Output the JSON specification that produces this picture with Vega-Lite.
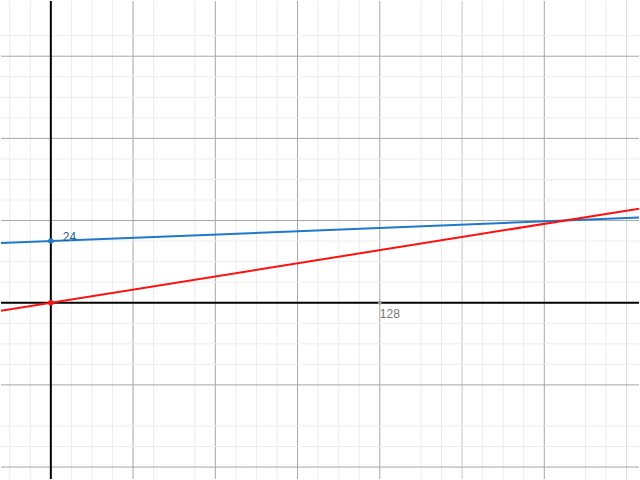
{
  "$schema": "https://vega.github.io/schema/vega-lite/v6.json",
  "width": 640,
  "height": 480,
  "padding": 0,
  "autosize": {"type": "fit", "contains": "padding"},
  "background": "white",
  "config": {"view": {"stroke": null}},
  "datasets": {
    "vgrid": [
      {"v": -16, "kind": "minor"}, {"v": -8, "kind": "minor"}, {"v": 8, "kind": "minor"}, {"v": 16, "kind": "minor"},
      {"v": 24, "kind": "minor"}, {"v": 32, "kind": "major"}, {"v": 40, "kind": "minor"},
      {"v": 56, "kind": "minor"}, {"v": 64, "kind": "major"}, {"v": 72, "kind": "minor"}, {"v": 80, "kind": "minor"},
      {"v": 88, "kind": "minor"}, {"v": 96, "kind": "major"}, {"v": 104, "kind": "minor"}, {"v": 112, "kind": "minor"},
      {"v": 120, "kind": "minor"}, {"v": 128, "kind": "major"}, {"v": 144, "kind": "minor"},
      {"v": 152, "kind": "minor"}, {"v": 160, "kind": "mid"}, {"v": 168, "kind": "minor"}, {"v": 176, "kind": "minor"},
      {"v": 184, "kind": "minor"}, {"v": 192, "kind": "major"}, {"v": 208, "kind": "minor"},
      {"v": 216, "kind": "minor"}, {"v": 224, "kind": "light"}
    ],
    "hgrid": [
      {"v": -64, "kind": "major"}, {"v": -56, "kind": "minor"}, {"v": -48, "kind": "minor"},
      {"v": -32, "kind": "major"}, {"v": -24, "kind": "minor"}, {"v": -16, "kind": "minor"}, {"v": -8, "kind": "minor"},
      {"v": 8, "kind": "minor"}, {"v": 16, "kind": "minor"}, {"v": 24, "kind": "minor"}, {"v": 32, "kind": "major"},
      {"v": 40, "kind": "minor"}, {"v": 48, "kind": "minor"}, {"v": 56, "kind": "minor"}, {"v": 64, "kind": "major"},
      {"v": 72, "kind": "minor"}, {"v": 80, "kind": "minor"}, {"v": 88, "kind": "minor"}, {"v": 96, "kind": "major"},
      {"v": 104, "kind": "minor"}
    ],
    "lines": [
      {"series": "blue", "x": -25, "y": 23.0},
      {"series": "blue", "x": 235, "y": 33.4},
      {"series": "red", "x": -25, "y": -4.0},
      {"series": "red", "x": 235, "y": 37.6}
    ],
    "points": [
      {"series": "blue", "x": 0, "y": 24, "label": "24"},
      {"series": "red", "x": 0, "y": 0, "label": ""}
    ],
    "ticklabel": [{"x": 128, "y": 0, "label": "128"}],
    "axes": [{"v": 0}]
  },
  "layer": [
    {
      "data": {"name": "vgrid"},
      "mark": {"type": "rule", "strokeWidth": 1},
      "encoding": {
        "x": {"field": "v", "type": "quantitative", "axis": null,
              "scale": {"domain": [-19.39, 228.85], "nice": false, "zero": false}},
        "color": {"field": "kind", "type": "nominal", "scale": {"domain": ["major", "mid", "light", "minor"], "range": ["#a6a6a6", "#c4c4c4", "#dadada", "#ececec"]}, "legend": null}
      }
    },
    {
      "data": {"name": "hgrid"},
      "mark": {"type": "rule", "strokeWidth": 1},
      "encoding": {
        "y": {"field": "v", "type": "quantitative", "axis": null,
              "scale": {"domain": [-68.65, 117.5], "nice": false, "zero": false}},
        "color": {"field": "kind", "type": "nominal", "scale": {"domain": ["major", "minor"], "range": ["#a6a6a6", "#ececec"]}, "legend": null}
      }
    },
    {
      "data": {"name": "axes"},
      "mark": {"type": "rule", "color": "black", "strokeWidth": 2},
      "encoding": {
        "x": {"field": "v", "type": "quantitative", "axis": null}
      }
    },
    {
      "data": {"name": "axes"},
      "mark": {"type": "rule", "color": "black", "strokeWidth": 2},
      "encoding": {
        "y": {"field": "v", "type": "quantitative", "axis": null}
      }
    },
    {
      "data": {"name": "lines"},
      "mark": {"type": "line", "strokeWidth": 2, "clip": true},
      "encoding": {
        "x": {"field": "x", "type": "quantitative", "axis": null},
        "y": {"field": "y", "type": "quantitative", "axis": null},
        "detail": {"field": "series"},
        "stroke": {"field": "series", "type": "nominal", "scale": {"domain": ["blue", "red"], "range": ["#1f78c9", "#ff1010"]}, "legend": null}
      }
    },
    {
      "data": {"name": "points"},
      "mark": {"type": "circle", "size": 30, "opacity": 1},
      "encoding": {
        "x": {"field": "x", "type": "quantitative", "axis": null},
        "y": {"field": "y", "type": "quantitative", "axis": null},
        "fill": {"field": "series", "type": "nominal", "scale": {"domain": ["blue", "red"], "range": ["#1f78c9", "#ff1010"]}, "legend": null}
      }
    },
    {
      "data": {"name": "points"},
      "mark": {"type": "text", "align": "left", "baseline": "bottom", "dx": 12, "dy": 3, "font": "Liberation Sans", "fontSize": 12, "color": "#1f5f99"},
      "encoding": {
        "x": {"field": "x", "type": "quantitative", "axis": null},
        "y": {"field": "y", "type": "quantitative", "axis": null},
        "text": {"field": "label"}
      }
    },
    {
      "data": {"name": "ticklabel"},
      "mark": {"type": "circle", "size": 14, "color": "#999999", "opacity": 1},
      "encoding": {
        "x": {"field": "x", "type": "quantitative", "axis": null},
        "y": {"field": "y", "type": "quantitative", "axis": null}
      }
    },
    {
      "data": {"name": "ticklabel"},
      "mark": {"type": "text", "align": "left", "baseline": "top", "dx": 0, "dy": 6, "font": "Liberation Sans", "fontSize": 12, "color": "#777777"},
      "encoding": {
        "x": {"field": "x", "type": "quantitative", "axis": null},
        "y": {"field": "y", "type": "quantitative", "axis": null},
        "text": {"field": "label"}
      }
    }
  ],
  "resolve": {"scale": {"color": "independent", "stroke": "independent", "fill": "independent"}}
}
